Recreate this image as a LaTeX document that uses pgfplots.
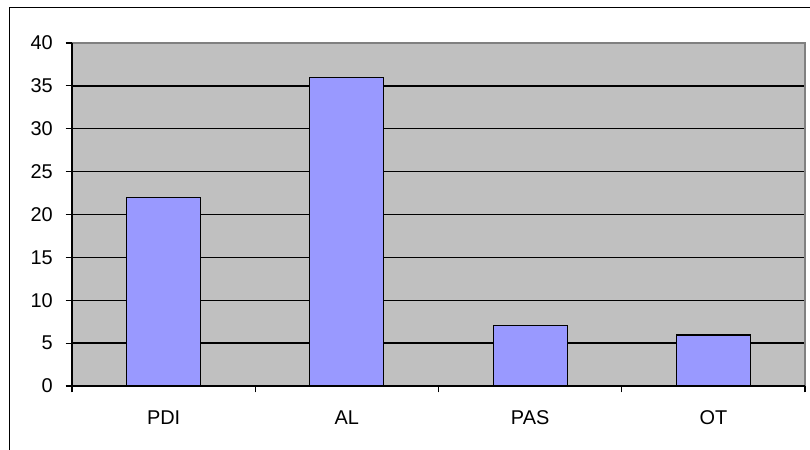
\documentclass[border=0pt]{standalone}
\usepackage{pgfplots}
\pgfplotsset{compat=1.18}
\usepackage{fontspec}
\setmainfont{Liberation Sans}
\definecolor{plotbg}{HTML}{C0C0C0}
\definecolor{barfill}{HTML}{9999FF}
\definecolor{frameg}{HTML}{808080}
\begin{document}
\begin{tikzpicture}[x=1bp,y=1bp]
\path[use as bounding box] (0,0) rectangle (810,450);
\draw[line width=1.4bp] (9.3,-5) -- (9.3,442.7) -- (815,442.7);
\begin{axis}[
  at={(72bp,64bp)}, anchor=south west,
  scale only axis, width=733bp, height=343bp,
  xmin=-0.5, xmax=3.5, ymin=0, ymax=40,
  ytick={0,5,...,40},
  xtick={-0.5,0.5,1.5,2.5,3.5}, xticklabels={},
  extra x ticks={0,1,2,3},
  extra x tick labels={PDI,AL,PAS,OT},
  extra x tick style={tick style={draw=none}},
  tick align=outside, ytick pos=left, xtick pos=bottom,
  major tick length=6.5bp,
  tick style={black, line width=1.2bp},
  axis line style={draw=none},
  axis background/.style={fill=plotbg},
  ymajorgrids, major grid style={black, line width=1.3bp},
  font=\fontsize{20}{24}\selectfont,
  /pgf/number format/assume math mode=true,
  yticklabel style={inner sep=0pt, xshift=-12.5bp},
  xticklabel style={inner sep=0pt, yshift=-18bp},
  clip=false,
]
\addplot[ybar, bar width=74bp, fill=barfill, draw=black, line width=1.2bp]
  coordinates {(0,22) (1,36) (2,7.1) (3,5.95)};
\draw[frameg, line width=1.5bp] (axis cs:-0.5,40) -- (axis cs:3.5,40) -- (axis cs:3.5,0);
\draw[black, line width=1.3bp] (axis cs:-0.5,40) -- (axis cs:-0.5,0) -- (axis cs:3.5,0);
\end{axis}
\end{tikzpicture}
\end{document}
